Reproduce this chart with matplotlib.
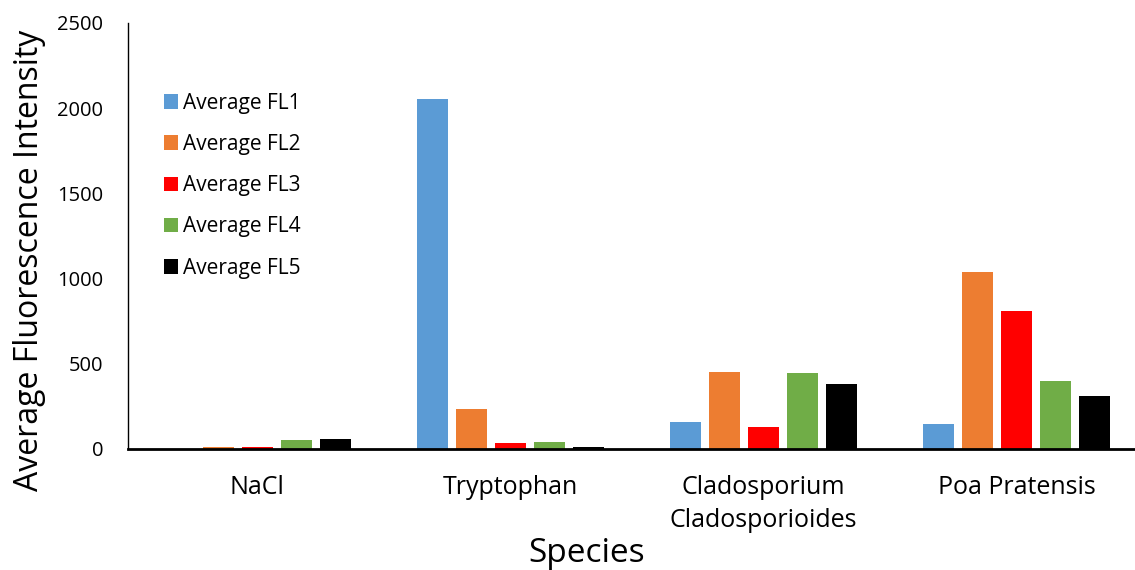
import numpy as np
import matplotlib.pyplot as plt

plt.rcParams['font.family'] = ['Open Sans', 'DejaVu Sans']

# data
species = ["NaCl", "Tryptophan", "Cladosporium\nCladosporioides", "Poa Pratensis"]
series_names = ["Average FL1", "Average FL2", "Average FL3", "Average FL4", "Average FL5"]
fl1 = [1, 2055, 158, 147]
fl2 = [9, 235, 452, 1039]
fl3 = [9, 35, 129, 810]
fl4 = [51, 43, 446, 399]
fl5 = [57, 12, 382, 311]
colors = ["#5B9BD5", "#ED7D31", "#FF0000", "#70AD47", "#000000"]

series = [fl1, fl2, fl3, fl4, fl5]

fig = plt.figure(figsize=(11.35, 5.7), dpi=100)
ax = fig.add_axes([0.1128, 0.2125, 0.8872, 0.7475])

x = np.arange(len(species))
pitch = 0.154
width = 0.123
for i, (vals, name, c) in enumerate(zip(series, series_names, colors)):
    ax.bar(x + (i - 2) * pitch, vals, width, color=c, label=name)

ax.set_xlim(-0.51, 3.468)
ax.set_ylim(0, 2500)
ax.set_yticks(range(0, 2501, 500))
ax.set_xticks(x)
ax.set_xticklabels(species, fontsize=18, linespacing=1.4)
ax.tick_params(axis='y', labelsize=14.5, length=0, pad=18)
ax.tick_params(axis='x', length=0, pad=19)

for side in ['top', 'right']:
    ax.spines[side].set_visible(False)
ax.spines['left'].set_linewidth(1.0)
ax.spines['bottom'].set_linewidth(2.0)

fig.text(30 / 1135, 1 - 260 / 570, "Average Fluorescence Intensity", fontsize=23,
         rotation=90, ha='center', va='center')
fig.text(587 / 1135, 1 - 553 / 570, "Species", fontsize=24, ha='center', va='center')

ax.legend(loc='upper left', bbox_to_anchor=(0.017, 0.88), frameon=False,
          fontsize=15, handlelength=0.7, handleheight=0.7, handletextpad=0.2,
          labelspacing=0.97)

fig.savefig("out.png", dpi=100)
